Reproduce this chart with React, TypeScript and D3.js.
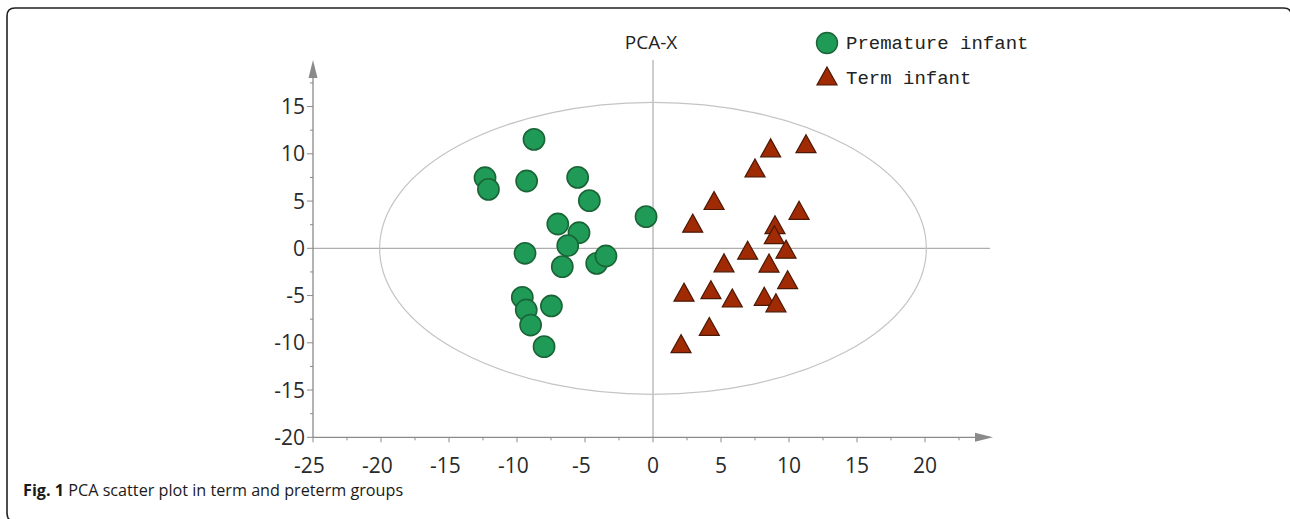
import React from "react";
import * as d3 from "d3";

// Score values (t[1], t[2]) for each group
const prematureX = [-8.75, -12.35, -12.1, -9.29, -5.54, -4.68, -0.51, -7.0, -5.44, -6.27, -9.41, -6.67, -4.14, -3.46, -9.61, -9.32, -7.47, -9.0, -8.01];
const prematureY = [11.53, 7.47, 6.24, 7.12, 7.51, 5.04, 3.35, 2.57, 1.65, 0.28, -0.53, -1.94, -1.59, -0.81, -5.19, -6.53, -6.1, -8.12, -10.41];
const termX = [11.25, 8.65, 7.5, 4.49, 10.74, 2.92, 8.97, 8.92, 9.78, 6.96, 5.22, 8.53, 9.9, 2.28, 4.26, 5.83, 8.18, 9.04, 4.14, 2.06];
const termY = [11.07, 10.63, 8.5, 5.06, 4.02, 2.66, 2.5, 1.44, -0.09, -0.2, -1.54, -1.56, -3.32, -4.64, -4.38, -5.26, -5.08, -5.77, -8.27, -10.09];

const xTicks = [-25, -20, -15, -10, -5, 0, 5, 10, 15, 20];
const yTicks = [-20, -15, -10, -5, 0, 5, 10, 15];
const xMinor = [-22.5, -17.5, -12.5, -7.5, -2.5, 2.5, 7.5, 12.5, 17.5, 22.5];
const yMinor = [-17.5, -12.5, -7.5, -2.5, 2.5, 7.5, 12.5, 17.5];

// Hotelling T2 ellipse semi-axes
const ellipseRx = 20.1;
const ellipseRy = 15.45;

const legendLabels = ["Premature infant", "Term infant"];
const titleText = "PCA-X";

const W = 1290;
const H = 519;

const x = d3.scaleLinear().domain([-25, 0]).range([313, 653]);
const y = d3.scaleLinear().domain([-20, 0]).range([437.3, 248.3]);

// upward triangle centred on its bounding box
const triangleUp: d3.SymbolType = {
  draw(context, size) {
    const w = Math.sqrt(size);
    const h = w * 0.9;
    context.moveTo(0, -h / 2);
    context.lineTo(w / 2, h / 2);
    context.lineTo(-w / 2, h / 2);
    context.closePath();
  },
};
const triPath = d3.symbol().type(triangleUp).size(20 * 20)() as string;

const green = "#1f9a57";
const greenStroke = "#1a6436";
const red = "#a02a04";
const redStroke = "#4a1804";
const axisGray = "#8a8a8a";
const labelFont = "'Open Sans', sans-serif";
const tickSize = 21;

export default function App() {
  const yTop = 60;
  const xRight = 993;
  const cx = x(0);
  const cy = y(0);
  const rx = x(ellipseRx) - x(0);
  const ry = y(0) - y(ellipseRy);

  return (
    <svg
      width={W}
      height={H}
      style={{ position: "absolute", left: 0, top: 0, background: "#fff" }}
      fontFamily={labelFont}
    >
      {/* figure frame */}
      <path
        d={`M1291.5,400 L1291.5,16 Q1291.5,8 1283.5,8 L15,8 Q7,8 7,16 L7,513 Q7,521.5 15,521.5 L1283,521.5`}
        fill="none"
        stroke="#222"
        strokeWidth={1.6}
      />

      {/* zero lines */}
      <line x1={x(0)} x2={x(0)} y1={yTop} y2={y(-20)} stroke="#9a9a9a" strokeWidth={1} />
      <line x1={x(-25)} x2={990} y1={y(0)} y2={y(0)} stroke="#9a9a9a" strokeWidth={1} />

      {/* confidence ellipse */}
      <ellipse cx={cx} cy={cy} rx={rx} ry={ry} fill="none" stroke="#c4c4c4" strokeWidth={1.2} />

      {/* y axis */}
      <line x1={x(-25)} x2={x(-25)} y1={y(-20)} y2={yTop + 14} stroke={axisGray} strokeWidth={1.3} />
      <path d={`M${x(-25)},${yTop} L${x(-25) + 4.5},${yTop + 18} L${x(-25) - 4.5},${yTop + 18} Z`} fill={axisGray} />
      {yTicks.map((t) => (
        <g key={"yt" + t}>
          <line x1={x(-25) - 6} x2={x(-25)} y1={y(t)} y2={y(t)} stroke={axisGray} strokeWidth={1} />
          <text x={x(-25) - 8} y={y(t)} dy="0.36em" textAnchor="end" fontSize={tickSize} fill="#2a2a2a">
            {t}
          </text>
        </g>
      ))}
      {yMinor.map((t) => (
        <line key={"ym" + t} x1={x(-25) - 3} x2={x(-25)} y1={y(t)} y2={y(t)} stroke={axisGray} strokeWidth={1} />
      ))}

      {/* x axis */}
      <line x1={x(-25)} x2={xRight - 14} y1={y(-20)} y2={y(-20)} stroke={axisGray} strokeWidth={1.3} />
      <path d={`M${xRight},${y(-20)} L${xRight - 18},${y(-20) - 4.5} L${xRight - 18},${y(-20) + 4.5} Z`} fill={axisGray} />
      {xTicks.map((t) => (
        <g key={"xt" + t}>
          <line x1={x(t)} x2={x(t)} y1={y(-20)} y2={y(-20) + 5} stroke={axisGray} strokeWidth={1} />
          {/* digits centred on the tick, minus sign hangs to the left */}
          <text
            x={x(t)}
            dx={t < 0 ? -tickSize * 0.17 : 0}
            y={y(-20) + 36}
            textAnchor="middle"
            fontSize={tickSize}
            fill="#2a2a2a"
          >
            {t}
          </text>
        </g>
      ))}
      {xMinor.map((t) => (
        <line key={"xm" + t} x1={x(t)} x2={x(t)} y1={y(-20)} y2={y(-20) + 3} stroke={axisGray} strokeWidth={1} />
      ))}

      {/* title */}
      <text x={651} y={49} textAnchor="middle" fontSize={19} fill="#222">
        {titleText}
      </text>

      {/* premature infants */}
      {prematureX.map((v, i) => (
        <circle
          key={"p" + i}
          cx={x(v)}
          cy={y(prematureY[i])}
          r={10.6}
          fill={green}
          stroke={greenStroke}
          strokeWidth={1.6}
        />
      ))}

      {/* term infants */}
      {termX.map((v, i) => (
        <path
          key={"t" + i}
          d={triPath}
          transform={`translate(${x(v)},${y(termY[i])})`}
          fill={red}
          stroke={redStroke}
          strokeWidth={1.2}
        />
      ))}

      {/* legend */}
      <circle cx={827} cy={43} r={10.5} fill={green} stroke={greenStroke} strokeWidth={1.4} />
      <text x={846} y={49} fontFamily="'Liberation Mono', monospace" fontSize={19} fill="#222">
        {legendLabels[0]}
      </text>
      <path d={triPath} transform="translate(827,76)" fill={red} stroke={redStroke} strokeWidth={1.2} />
      <text x={846} y={84} fontFamily="'Liberation Mono', monospace" fontSize={19} fill="#222">
        {legendLabels[1]}
      </text>

      {/* caption */}
      <text x={23} y={496} fontSize={16.2} fill="#1a1a1a">
        <tspan fontWeight="bold">Fig. 1</tspan>
        <tspan> PCA scatter plot in term and preterm groups</tspan>
      </text>
    </svg>
  );
}
